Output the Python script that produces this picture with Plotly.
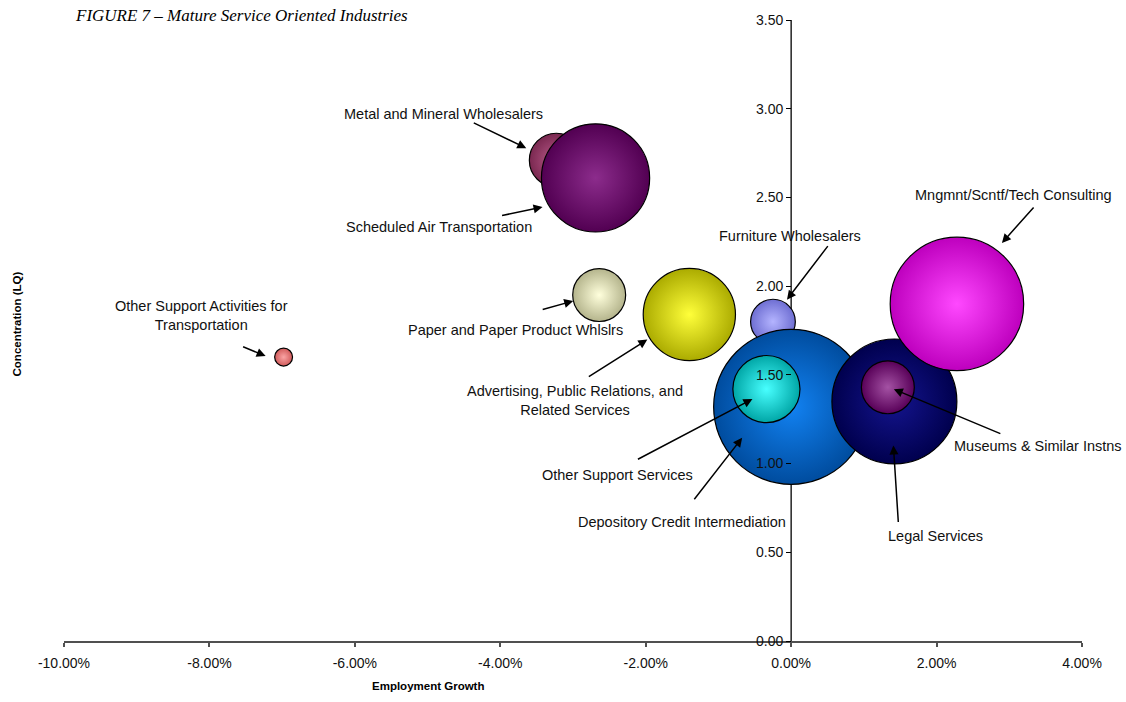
import plotly.graph_objects as go

# ── Data ───────────────────────────────────────────────────────────────────────

industries = [
    "Other Support Activities for Transportation",
    "Metal and Mineral Wholesalers",
    "Scheduled Air Transportation",
    "Paper and Paper Product Whlslrs",
    "Advertising, Public Relations, and Related Services",
    "Furniture Wholesalers",
    "Depository Credit Intermediation",
    "Other Support Services",
    "Legal Services",
    "Museums & Similar Instns",
    "Mngmnt/Scntf/Tech Consulting",
]
label_text = [
    "Other Support Activities for<br>Transportation",
    "Metal and Mineral Wholesalers",
    "Scheduled Air Transportation",
    "Paper and Paper Product Whlslrs",
    "Advertising, Public Relations, and<br>Related Services",
    "Furniture Wholesalers",
    "Depository Credit Intermediation",
    "Other Support Services",
    "Legal Services",
    "Museums & Similar Instns",
    "Mngmnt/Scntf/Tech Consulting",
]
growth = [-0.0698, -0.0323, -0.0269, -0.0264, -0.0140, -0.0025,
          0.0000, -0.0034, 0.0142, 0.0133, 0.0228]
lq = [1.60, 2.71, 2.61, 1.95, 1.84, 1.80, 1.32, 1.42, 1.35, 1.43, 1.90]
employment = [320, 2900, 11700, 2800, 8500, 2000, 24000, 4500, 15600, 2800, 17800]

x_ticks = [-0.10, -0.08, -0.06, -0.04, -0.02, 0.0, 0.02, 0.04]
y_ticks = [0.0, 0.5, 1.0, 1.5, 2.0, 2.5, 3.0, 3.5]

# ── Styling ────────────────────────────────────────────────────────────────────

edge_colors = ["#D05A5A", "#7A2850", "#520052", "#B4B48C", "#ABAB00", "#6E6ED2",
               "#004C9E", "#00A6A6", "#00004E", "#580058", "#BE00BE"]
glow_colors = ["#FAA4A4", "#BC5C8C", "#8C2C8C", "#FFFFDC", "#FFFF3A", "#B4B4FF",
               "#1282F2", "#48FFFF", "#14148E", "#A452A4", "#FF48FF"]

# label placement in screen px relative to the bubble centre (y down):
# text centre, arrow head, arrow tail
label_pos = [
    ((-82, -42), (-18, -1), (-42, -11)),
    ((-113, -46), (-30, -12), (-84, -38)),
    ((-157, 49), (-53, 29), (-95, 38)),
    ((-84, 35), (-26, 6), (-58, 15)),
    ((-114, 86), (-42, 25), (-102, 63)),
    ((17, -86), (14, -22), (56, -77)),
    ((-109, 115), (-49, 31), (-98, 94)),
    ((-149, 86), (-14, 10), (-130, 71)),
    ((41, 135), (-1, 44), (4, 122)),
    ((150, 59), (6, 2), (114, 47)),
    ((57, -109), (45, -61), (78, -98)),
]

FONT = "Liberation Sans, Arial, sans-serif"
X_RANGE = [-0.10, 0.04]
Y_RANGE = [0.0, 3.5]
MAX_DIAM = 155

fig = go.Figure()

fig.add_trace(go.Scatter(
    x=growth, y=lq,
    mode="markers",
    text=industries,
    marker=dict(
        size=employment,
        sizemode="area",
        sizeref=2.0 * max(employment) / MAX_DIAM ** 2,
        color=edge_colors,
        gradient=dict(type="radial", color=glow_colors),
        line=dict(color="black", width=1.2),
        opacity=1,
    ),
    hovertemplate="%{text}<br>Growth %{x:.2%}<br>LQ %{y:.2f}<extra></extra>",
    showlegend=False,
))

annotations = []
for i, (tpos, head, tail) in enumerate(label_pos):
    annotations.append(dict(
        x=growth[i], y=lq[i], xref="x", yref="y",
        text=label_text[i], showarrow=False,
        xshift=tpos[0], yshift=-tpos[1],
        xanchor="center", yanchor="middle",
        font=dict(family=FONT, size=14.5, color="#111111"),
    ))
    annotations.append(dict(
        x=growth[i], y=lq[i], xref="x", yref="y",
        text="", showarrow=True,
        xshift=head[0], yshift=-head[1],
        ax=tail[0] - head[0], ay=tail[1] - head[1],
        axref="pixel", ayref="pixel",
        arrowhead=2, arrowsize=1.2, arrowwidth=1.5, arrowcolor="black",
        standoff=0, startstandoff=0,
    ))

# title and axis titles
annotations.append(dict(
    xref="paper", yref="paper", x=0.009, y=1, yshift=5,
    xanchor="left", yanchor="middle", showarrow=False,
    text="<i>FIGURE 7 – Mature Service Oriented Industries</i>",
    font=dict(family="Liberation Serif, Times New Roman, serif", size=17, color="black"),
))
annotations.append(dict(
    xref="paper", yref="paper", x=0.358, y=0, yshift=-45,
    xanchor="center", yanchor="middle", showarrow=False,
    text="<b>Employment Growth</b>",
    font=dict(family=FONT, size=11.5, color="black"),
))
annotations.append(dict(
    xref="paper", yref="paper", x=-0.046, y=0.51,
    xanchor="center", yanchor="middle", showarrow=False, textangle=-90,
    text="<b>Concentration (LQ)</b>",
    font=dict(family=FONT, size=11.5, color="black"),
))

# vertical axis line sits behind the bubbles, its labels above them
fig.add_shape(type="line", xref="x", yref="y", x0=0, x1=0, y0=Y_RANGE[0], y1=Y_RANGE[1],
              line=dict(color="black", width=1.3), layer="below")

fig.update_layout(
    width=1126, height=702,
    paper_bgcolor="white", plot_bgcolor="white",
    margin=dict(l=64, r=44, t=14, b=61),
    font=dict(family=FONT, size=14, color="#111111"),
    xaxis=dict(
        range=X_RANGE, tickvals=x_ticks,
        ticktext=[f"{v * 100:.2f}%" for v in x_ticks],
        showgrid=False, zeroline=False,
        showline=True, linecolor="#505050", linewidth=2,
        ticks="outside", ticklen=4, tickcolor="#505050", tickwidth=1.5,
        ticklabelstandoff=4,
        tickfont=dict(family=FONT, size=14, color="#111111"),
    ),
    yaxis=dict(
        range=Y_RANGE, tickvals=y_ticks,
        ticktext=[f"{v:.2f}" for v in y_ticks],
        anchor="free", position=(0 - X_RANGE[0]) / (X_RANGE[1] - X_RANGE[0]),
        showgrid=False, zeroline=False, showline=False,
        ticks="outside", ticklen=5, tickcolor="black", tickwidth=1.2,
        tickfont=dict(family=FONT, size=14, color="#111111"),
    ),
    annotations=annotations,
)

fig.write_html(
    "out.html",
    config={"displayModeBar": False},
    post_script="document.body.style.margin='0';document.body.style.overflow='hidden';",
)
